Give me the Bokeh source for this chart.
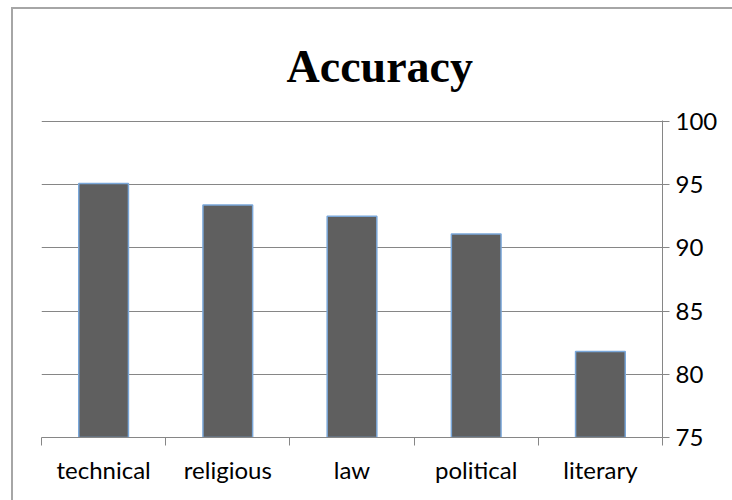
from bokeh.plotting import figure
from bokeh.models import Range1d, FixedTicker, Title, ColumnDataSource
from bokeh.embed import file_html
from bokeh.resources import INLINE

categories = ["technical", "religious", "law", "political", "literary"]
accuracy = [95.1, 93.4, 92.5, 91.1, 81.8]
y_ticks = [75, 80, 85, 90, 95, 100]
title_text = "Accuracy"

centers = [i + 0.5 for i in range(len(categories))]
boundaries = list(range(len(categories) + 1))
source = ColumnDataSource(dict(x=centers, top=accuracy, cat=categories))

p = figure(width=719, height=491, output_backend="svg", toolbar_location=None,
           x_range=Range1d(0, len(categories)), y_range=Range1d(75, 100.08),
           y_axis_location="right", min_border_left=28, min_border_right=70,
           min_border_top=109, min_border_bottom=63)
p.margin = (9, 0, 0, 13)
p.styles = {"outline": "2px solid #a6a6a6"}

p.outline_line_color = None
p.background_fill_color = "white"
p.border_fill_color = "white"

p.vbar(x="x", top="top", bottom=75, width=0.4, source=source,
       fill_color="#5f5f5f", line_color="#7aa7d9", line_width=1.5)

t = Title(text=title_text, align="left", offset=245, text_font="Liberation Serif",
          text_font_size="46px", text_font_style="bold", text_color="black",
          standoff=58, text_line_height=0.6)
p.add_layout(t, "above")

xa = p.xaxis[0]
xa.ticker = FixedTicker(ticks=centers, minor_ticks=boundaries)
xa.major_label_overrides = {c: lab for c, lab in zip(centers, categories)}
xa.major_tick_out = 0
xa.major_tick_in = 0
xa.minor_tick_out = 8
xa.minor_tick_in = 0
xa.minor_tick_line_color = "#868686"
xa.axis_line_color = "#868686"
xa.major_label_text_font = "Lato"
xa.major_label_text_font_size = "24px"
xa.major_label_text_color = "black"
xa.major_label_standoff = 9

ya = p.yaxis[0]
ya.ticker = FixedTicker(ticks=y_ticks)
ya.major_tick_out = 7
ya.major_tick_in = 0
ya.minor_tick_out = 0
ya.minor_tick_in = 0
ya.major_tick_line_color = "#868686"
ya.axis_line_color = "#868686"
ya.major_label_text_font = "Lato"
ya.major_label_text_font_size = "24px"
ya.major_label_text_color = "black"
ya.major_label_standoff = 6

p.xgrid.grid_line_color = None
p.ygrid.ticker = FixedTicker(ticks=y_ticks)
p.ygrid.grid_line_color = "#868686"
p.ygrid.grid_line_width = 1

open("out.html", "w").write(file_html(p, INLINE))
